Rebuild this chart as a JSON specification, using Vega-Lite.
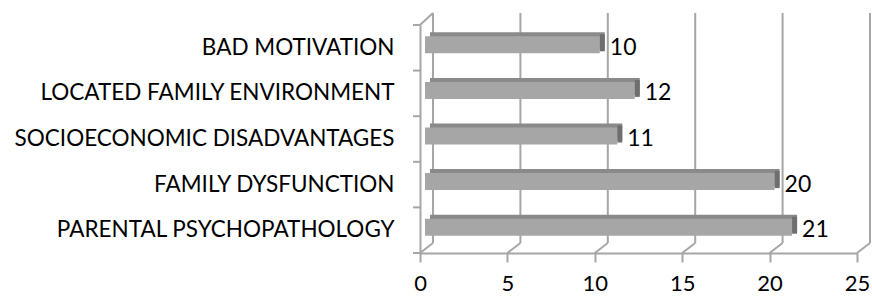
{
  "$schema": "https://vega.github.io/schema/vega-lite/v6.json",
  "width": 437,
  "height": 228,
  "autosize": {"type": "none"},
  "padding": {"left": 420, "top": 25, "right": 15, "bottom": 44},
  "background": "white",
  "config": {
    "view": {"stroke": null},
    "font": "Lato"
  },
  "datasets": {
    "bars": [
      {"cat": "BAD MOTIVATION", "value": 10},
      {"cat": "LOCATED FAMILY ENVIRONMENT", "value": 12},
      {"cat": "SOCIOECONOMIC DISADVANTAGES", "value": 11},
      {"cat": "FAMILY DYSFUNCTION", "value": 20},
      {"cat": "PARENTAL PSYCHOPATHOLOGY", "value": 21}
    ],
    "grid": [{"v": 0}, {"v": 5}, {"v": 10}, {"v": 15}, {"v": 20}, {"v": 25}],
    "ticks": [{"t": 0}, {"t": 0.2}, {"t": 0.4}, {"t": 0.6}, {"t": 0.8}, {"t": 1}],
    "corner": [{"v": 0}]
  },
  "layer": [
    {
      "data": {"name": "grid"},
      "mark": {"type": "rule", "color": "#a6a6a6", "strokeWidth": 2, "xOffset": 13, "yOffset": -10, "y2Offset": -12},
      "encoding": {
        "x": {"field": "v", "type": "quantitative", "scale": {"domain": [0, 25], "nice": false},
          "axis": {"grid": false, "domainColor": "#a6a6a6", "domainWidth": 2, "tickColor": "#a6a6a6", "tickWidth": 2,
            "tickSize": 9, "labelFontSize": 22, "labelColor": "#000000", "labelPadding": 11, "title": null,
            "values": [0, 5, 10, 15, 20, 25], "labelFont": "Lato", "labelFlush": false}},
        "y": {"datum": 0, "type": "quantitative", "scale": {"domain": [0, 1]}, "axis": null},
        "y2": {"datum": 1}
      }
    },
    {
      "data": {"name": "grid"},
      "mark": {"type": "rule", "color": "#a6a6a6", "strokeWidth": 2, "x2Offset": 13, "y2Offset": -10},
      "encoding": {
        "x": {"field": "v", "type": "quantitative"},
        "x2": {"field": "v"},
        "y": {"datum": 0, "type": "quantitative", "scale": {"domain": [0, 1]}, "axis": null},
        "y2": {"datum": 0}
      }
    },
    {
      "data": {"name": "corner"},
      "mark": {"type": "rule", "color": "#a6a6a6", "strokeWidth": 2, "x2Offset": 13, "y2Offset": -12},
      "encoding": {
        "x": {"field": "v", "type": "quantitative"},
        "x2": {"field": "v"},
        "y": {"datum": 1, "type": "quantitative", "scale": {"domain": [0, 1]}, "axis": null},
        "y2": {"datum": 1}
      }
    },
    {
      "data": {"name": "ticks"},
      "mark": {"type": "rule", "color": "#a6a6a6", "strokeWidth": 2, "xOffset": -7, "x2Offset": 0},
      "encoding": {
        "x": {"datum": 0, "type": "quantitative"},
        "x2": {"datum": 0},
        "y": {"field": "t", "type": "quantitative", "scale": {"domain": [0, 1]}, "axis": null}
      }
    },
    {
      "data": {"name": "bars"},
      "mark": {"type": "bar", "color": "#8a8a8a", "size": 17, "xOffset": 10, "x2Offset": 8, "yOffset": -7},
      "encoding": {
        "y": {"field": "cat", "type": "nominal", "sort": null, "scale": {"paddingInner": 0, "paddingOuter": 0},
          "axis": {"domainColor": "#a6a6a6", "domainWidth": 2, "ticks": false, "labelFontSize": 22.5, "labelColor": "#000000", "labelPadding": 26, "title": null, "labelFont": "Lato", "labelLimit": 500}},
        "x": {"field": "value", "type": "quantitative"}
      }
    },
    {
      "data": {"name": "bars"},
      "mark": {"type": "bar", "color": "#6e6e6e", "size": 17, "xOffset": 5, "x2Offset": 10, "yOffset": -5},
      "encoding": {
        "y": {"field": "cat", "type": "nominal", "sort": null, "scale": {"paddingInner": 0, "paddingOuter": 0}, "axis": null},
        "x": {"field": "value", "type": "quantitative"},
        "x2": {"field": "value"}
      }
    },
    {
      "data": {"name": "bars"},
      "mark": {"type": "bar", "color": "#a6a6a6", "size": 17, "xOffset": 5, "x2Offset": 3, "yOffset": -3},
      "encoding": {
        "y": {"field": "cat", "type": "nominal", "sort": null, "scale": {"paddingInner": 0, "paddingOuter": 0}, "axis": null},
        "x": {"field": "value", "type": "quantitative"}
      }
    },
    {
      "data": {"name": "bars"},
      "mark": {"type": "text", "align": "left", "baseline": "middle", "dx": 15, "fontSize": 23, "font": "Lato", "color": "#000000"},
      "encoding": {
        "y": {"field": "cat", "type": "nominal", "sort": null, "scale": {"paddingInner": 0, "paddingOuter": 0}, "axis": null},
        "x": {"field": "value", "type": "quantitative"},
        "text": {"field": "value", "type": "quantitative"}
      }
    }
  ],
  "resolve": {"scale": {"y": "independent"}}
}
